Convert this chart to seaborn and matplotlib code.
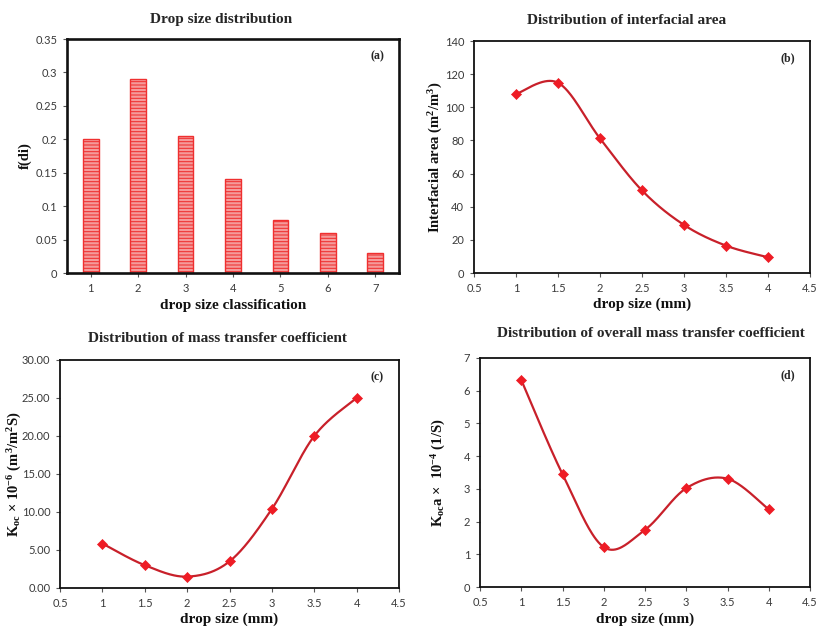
import numpy as np
import pandas as pd
import matplotlib
matplotlib.use("Agg")
import matplotlib.pyplot as plt
from matplotlib.ticker import FormatStrFormatter, FuncFormatter
import seaborn as sns

# ---- data ----
drop_class = [1, 2, 3, 4, 5, 6, 7]
f_di = [0.20, 0.29, 0.205, 0.14, 0.08, 0.06, 0.03]

drop_size = [1.0, 1.5, 2.0, 2.5, 3.0, 3.5, 4.0]
interfacial_area = [108.0, 114.8, 81.2, 49.8, 29.0, 16.5, 9.5]
k_oc = [5.85, 3.0, 1.5, 3.5, 10.4, 20.0, 25.0]
k_oc_a = [6.33, 3.45, 1.22, 1.75, 3.02, 3.31, 2.37]

sns.set_theme(style="white")
plt.rcParams["font.family"] = ["Lato", "DejaVu Sans"]
plt.rcParams["mathtext.fontset"] = "custom"
plt.rcParams["mathtext.rm"] = "Liberation Serif:bold"
plt.rcParams["mathtext.bf"] = "Liberation Serif:bold"
plt.rcParams["mathtext.it"] = "Liberation Serif:bold"
plt.rcParams["hatch.color"] = "#ec2c2c"
plt.rcParams["hatch.linewidth"] = 0.75

SERIF = "Liberation Serif"
TICK_COLOR = "#3a3a3a"
LINE_RED = "#c8202a"
MARK_RED = "#ee1c25"

W, H = 819, 628
fig = plt.figure(figsize=(W / 100, H / 100), dpi=100)


def px_axes(left, top, right, bottom):
    return fig.add_axes([left / W, 1 - bottom / H, (right - left) / W, (bottom - top) / H])


def style_axes(ax, frame_lw):
    for sp in ax.spines.values():
        sp.set_visible(True)
        sp.set_color("#111111")
        sp.set_linewidth(frame_lw)
    ax.tick_params(axis="both", which="both", direction="out", length=3, width=0.8,
                   color="#555555", labelsize=8, labelcolor=TICK_COLOR, pad=4,
                   bottom=True, left=True)
    ax.grid(False)


def place_labels(ax, box, xlabel, ylabel, ylab_x, xlab_y):
    left, top, right, bottom = box
    ax.set_xlabel(xlabel, family=SERIF, fontweight="bold", fontsize=11, color="#111111")
    ax.set_ylabel(ylabel, family=SERIF, fontweight="bold", fontsize=10.5, color="#111111")
    ax.xaxis.set_label_coords(0.5, (bottom - xlab_y) / (bottom - top))
    ax.xaxis.label.set_verticalalignment("center")
    ax.yaxis.set_label_coords((ylab_x - left) / (right - left), 0.5)
    ax.yaxis.label.set_verticalalignment("center")


def smooth_curve(x, y, n=40):
    # piecewise cubic Bezier through the points (Catmull-Rom style tangents)
    P = np.column_stack([x, y]).astype(float)
    Pe = np.vstack([P[0], P, P[-1]])
    out = []
    for i in range(len(P) - 1):
        p0, p1, p2, p3 = Pe[i], Pe[i + 1], Pe[i + 2], Pe[i + 3]
        c1 = p1 + (p2 - p0) / 6.0
        c2 = p2 - (p3 - p1) / 6.0
        t = np.linspace(0, 1, n)[:, None]
        seg = ((1 - t) ** 3) * p1 + 3 * ((1 - t) ** 2) * t * c1 + 3 * (1 - t) * t ** 2 * c2 + t ** 3 * p2
        out.append(seg if i == 0 else seg[1:])
    s = np.vstack(out)
    return s[:, 0], s[:, 1]


def line_panel(ax, x, y):
    sx, sy = smooth_curve(x, y)
    curve = pd.DataFrame({"x": sx, "y": sy})
    pts = pd.DataFrame({"x": x, "y": y})
    sns.lineplot(data=curve, x="x", y="y", sort=False, ax=ax, color=LINE_RED, linewidth=1.6)
    sns.scatterplot(data=pts, x="x", y="y", ax=ax, marker="D", s=26, color=MARK_RED,
                    edgecolor=MARK_RED, linewidth=0.5, zorder=5)
    ax.set_xlim(0.5, 4.5)
    ax.set_xticks(np.arange(0.5, 4.51, 0.5))
    ax.xaxis.set_major_formatter(FuncFormatter(lambda v, p: f"{v:g}"))


def fig_title(x, y, text):
    fig.text(x / W, 1 - y / H, text, ha="center", va="center", family=SERIF,
             fontweight="bold", fontsize=11)


def panel_tag(ax, text):
    ax.text(0.955, 0.925, text, transform=ax.transAxes, ha="right", va="center",
            family=SERIF, fontweight="bold", fontsize=8.5)


# ---- (a) drop size distribution ----
box_a = (67, 39, 399, 273)
ax_a = px_axes(*box_a)
dfa = pd.DataFrame({"cls": [str(c) for c in drop_class], "f": f_di})
sns.barplot(data=dfa, x="cls", y="f", ax=ax_a, width=0.33, color="#f59a9a",
            saturation=1, edgecolor="#ef3030", linewidth=1.0)
for bar in ax_a.patches:
    bar.set_hatch("-----")
ax_a.set_xlim(-0.5, 6.5)
ax_a.set_ylim(0, 0.35)
ax_a.set_yticks(np.arange(0, 0.351, 0.05))
ax_a.yaxis.set_major_formatter(FuncFormatter(lambda v, p: f"{round(v, 2):g}"))
style_axes(ax_a, 1.9)
place_labels(ax_a, box_a, "drop size classification", "f(di)", 25, 305)
panel_tag(ax_a, "(a)")
fig_title(221, 20, "Drop size distribution")

# ---- (b) interfacial area ----
box_b = (474, 41, 810, 273)
ax_b = px_axes(*box_b)
line_panel(ax_b, drop_size, interfacial_area)
ax_b.set_ylim(0, 140)
ax_b.set_yticks(np.arange(0, 141, 20))
style_axes(ax_b, 1.3)
place_labels(ax_b, box_b, "drop size (mm)",
             r"Interfacial area (m$^{\mathbf{2}}$/m$^{\mathbf{3}}$)", 436, 304)
panel_tag(ax_b, "(b)")
fig_title(627, 20, "Distribution of interfacial area")

# ---- (c) mass transfer coefficient ----
box_c = (60, 360, 399, 588)
ax_c = px_axes(*box_c)
line_panel(ax_c, drop_size, k_oc)
ax_c.set_ylim(0, 30)
ax_c.set_yticks(np.arange(0, 30.01, 5))
ax_c.yaxis.set_major_formatter(FormatStrFormatter("%.2f"))
style_axes(ax_c, 1.3)
place_labels(ax_c, box_c, "drop size (mm)",
             r"K$_{\mathbf{oc}}$ × 10$^{\mathbf{-6}}$ (m$^{\mathbf{3}}$/m$^{\mathbf{2}}$S)", 15, 619)
panel_tag(ax_c, "(c)")
fig_title(218, 338, "Distribution of mass transfer coefficient")

# ---- (d) overall mass transfer coefficient ----
box_d = (480, 358, 810, 587)
ax_d = px_axes(*box_d)
line_panel(ax_d, drop_size, k_oc_a)
ax_d.set_ylim(0, 7)
ax_d.set_yticks(np.arange(0, 7.01, 1))
ax_d.yaxis.set_major_formatter(FuncFormatter(lambda v, p: f"{v:g}"))
style_axes(ax_d, 1.3)
place_labels(ax_d, box_d, "drop size (mm)",
             r"K$_{\mathbf{oc}}$a ×  10$^{\mathbf{-4}}$ (1/S)", 439, 619)
panel_tag(ax_d, "(d)")
fig_title(651, 333, "Distribution of overall mass transfer coefficient")

fig.savefig("out.png", dpi=100, facecolor="white")
